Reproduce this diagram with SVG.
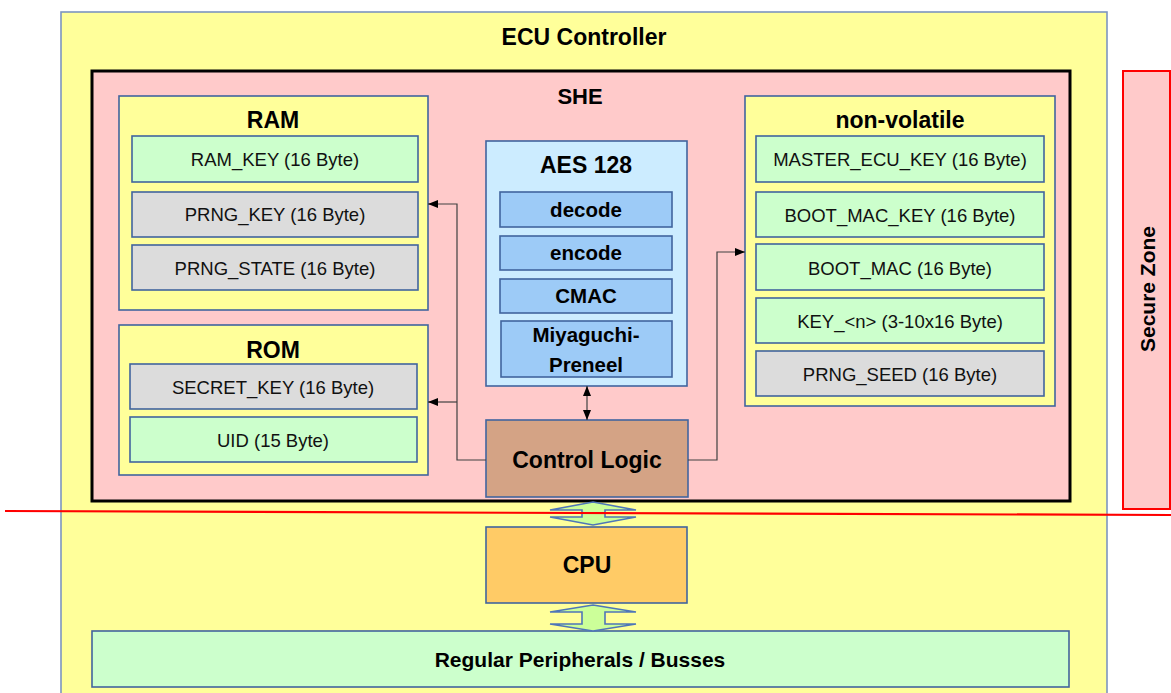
<svg xmlns="http://www.w3.org/2000/svg" width="1171" height="693" viewBox="0 0 1171 693">
<style>
.box{stroke:#41649E;stroke-width:1.6}
.y{fill:#FFFF9A}
.g{fill:#CCFFCC}
.gr{fill:#DCDCDC}
.t{font-family:"Liberation Sans",Arial,sans-serif;font-size:18.5px;fill:#111;text-anchor:middle}
.b{font-family:"Liberation Sans",Arial,sans-serif;font-weight:bold;font-size:23px;fill:#000;text-anchor:middle}
.c{fill:none;stroke:#404040;stroke-width:1.2}
.ba{fill:#CCFF99;stroke:#4F76B8;stroke-width:1.6}
</style>
<defs>
<marker id="ah" viewBox="0 0 10 10" refX="10" refY="5" markerWidth="10" markerHeight="10" markerUnits="userSpaceOnUse" orient="auto-start-reverse">
<path d="M0,1 L10,5 L0,9 Z" fill="#000"/>
</marker>
</defs>
<rect width="1171" height="693" fill="#fff"/>
<g id="ecu">
<rect x="61" y="12" width="1046" height="700" fill="#FFFF9A" stroke="#7D95C0" stroke-width="1.6"/>
<text class="b" x="584" y="45">ECU Controller</text>
</g>
<g id="she">
<rect x="92" y="71" width="978" height="430" fill="#FFCACA" stroke="#000" stroke-width="3"/>
<text class="b" x="580" y="104" style="font-size:22px">SHE</text>
</g>
<g id="secure-zone">
<rect x="1123" y="71" width="47" height="438" fill="#FFCACA" stroke="#FF0000" stroke-width="2"/>
<text class="b" transform="translate(1155,289) rotate(-90)" style="font-size:21px">Secure Zone</text>
</g>
<g id="ram">
<rect class="box y" x="119" y="96" width="309" height="214"/>
<text class="b" x="273" y="128">RAM</text>
<rect class="box g" x="132" y="136" width="286" height="46"/>
<text class="t" x="275" y="166">RAM_KEY (16 Byte)</text>
<rect class="box gr" x="132" y="192" width="286" height="45"/>
<text class="t" x="275" y="221">PRNG_KEY (16 Byte)</text>
<rect class="box gr" x="132" y="245" width="286" height="45"/>
<text class="t" x="275" y="275">PRNG_STATE (16 Byte)</text>
</g>
<g id="rom">
<rect class="box y" x="119" y="325" width="309" height="150"/>
<text class="b" x="273" y="358">ROM</text>
<rect class="box gr" x="130" y="364" width="287" height="45"/>
<text class="t" x="273" y="394">SECRET_KEY (16 Byte)</text>
<rect class="box g" x="130" y="417" width="287" height="45"/>
<text class="t" x="273" y="447">UID (15 Byte)</text>
</g>
<g id="aes">
<rect class="box" x="486" y="141" width="201" height="245" fill="#CCECFF"/>
<text class="b" x="586" y="173">AES 128</text>
<rect class="box" x="500" y="192" width="172" height="35" fill="#9DCBF7"/>
<text class="b" x="586" y="217" style="font-size:20.5px">decode</text>
<rect class="box" x="500" y="236" width="172" height="34" fill="#9DCBF7"/>
<text class="b" x="586" y="260" style="font-size:20.5px">encode</text>
<rect class="box" x="500" y="279" width="172" height="34" fill="#9DCBF7"/>
<text class="b" x="586" y="303" style="font-size:20.5px">CMAC</text>
<rect class="box" x="501" y="321" width="171" height="56" fill="#9DCBF7"/>
<text class="b" x="586" y="342" style="font-size:20.5px">Miyaguchi-</text>
<text class="b" x="586" y="372" style="font-size:20.5px">Preneel</text>
</g>
<g id="control-logic">
<rect class="box" x="486" y="420" width="202" height="77" fill="#D4A385"/>
<text class="b" x="587" y="468">Control Logic</text>
</g>
<g id="non-volatile">
<rect class="box y" x="745" y="96" width="310" height="310"/>
<text class="b" x="900" y="128">non-volatile</text>
<rect class="box g" x="756" y="136" width="288" height="46"/>
<text class="t" x="900" y="166">MASTER_ECU_KEY (16 Byte)</text>
<rect class="box g" x="756" y="192" width="288" height="45"/>
<text class="t" x="900" y="222">BOOT_MAC_KEY (16 Byte)</text>
<rect class="box g" x="756" y="244" width="288" height="46"/>
<text class="t" x="900" y="275">BOOT_MAC (16 Byte)</text>
<rect class="box g" x="756" y="298" width="288" height="45"/>
<text class="t" x="900" y="328">KEY_&lt;n&gt; (3-10x16 Byte)</text>
<rect class="box gr" x="756" y="351" width="288" height="45"/>
<text class="t" x="900" y="381">PRNG_SEED (16 Byte)</text>
</g>
<g id="cpu">
<rect class="box" x="486" y="527" width="201" height="76" fill="#FFCB66"/>
<text class="b" x="587" y="573">CPU</text>
</g>
<g id="peripherals">
<rect class="box g" x="92" y="631" width="977" height="56"/>
<text class="b" x="580" y="667" style="font-size:21px">Regular Peripherals / Busses</text>
</g>
<g id="connectors">
<path class="c" d="M486,460 H457 V204 H428" marker-end="url(#ah)"/>
<path class="c" d="M457,402 H428" marker-end="url(#ah)"/>
<path class="c" d="M688,460 H717 V252 H745" marker-end="url(#ah)"/>
<path class="c" d="M587,386 V420" marker-start="url(#ah)" marker-end="url(#ah)"/>
<path class="ba" d="M593,502 L636,510 L605,510 L605,517 L636,517 L593,525 L550,517 L582,517 L582,510 L550,510 Z"/>
<path class="ba" d="M593,605 L636,612 L605,612 L605,624 L636,624 L593,631 L550,624 L582,624 L582,612 L550,612 Z"/>
</g>
<line x1="5" y1="511" x2="1171" y2="515" stroke="#FF0000" stroke-width="2.2"/>
</svg>
